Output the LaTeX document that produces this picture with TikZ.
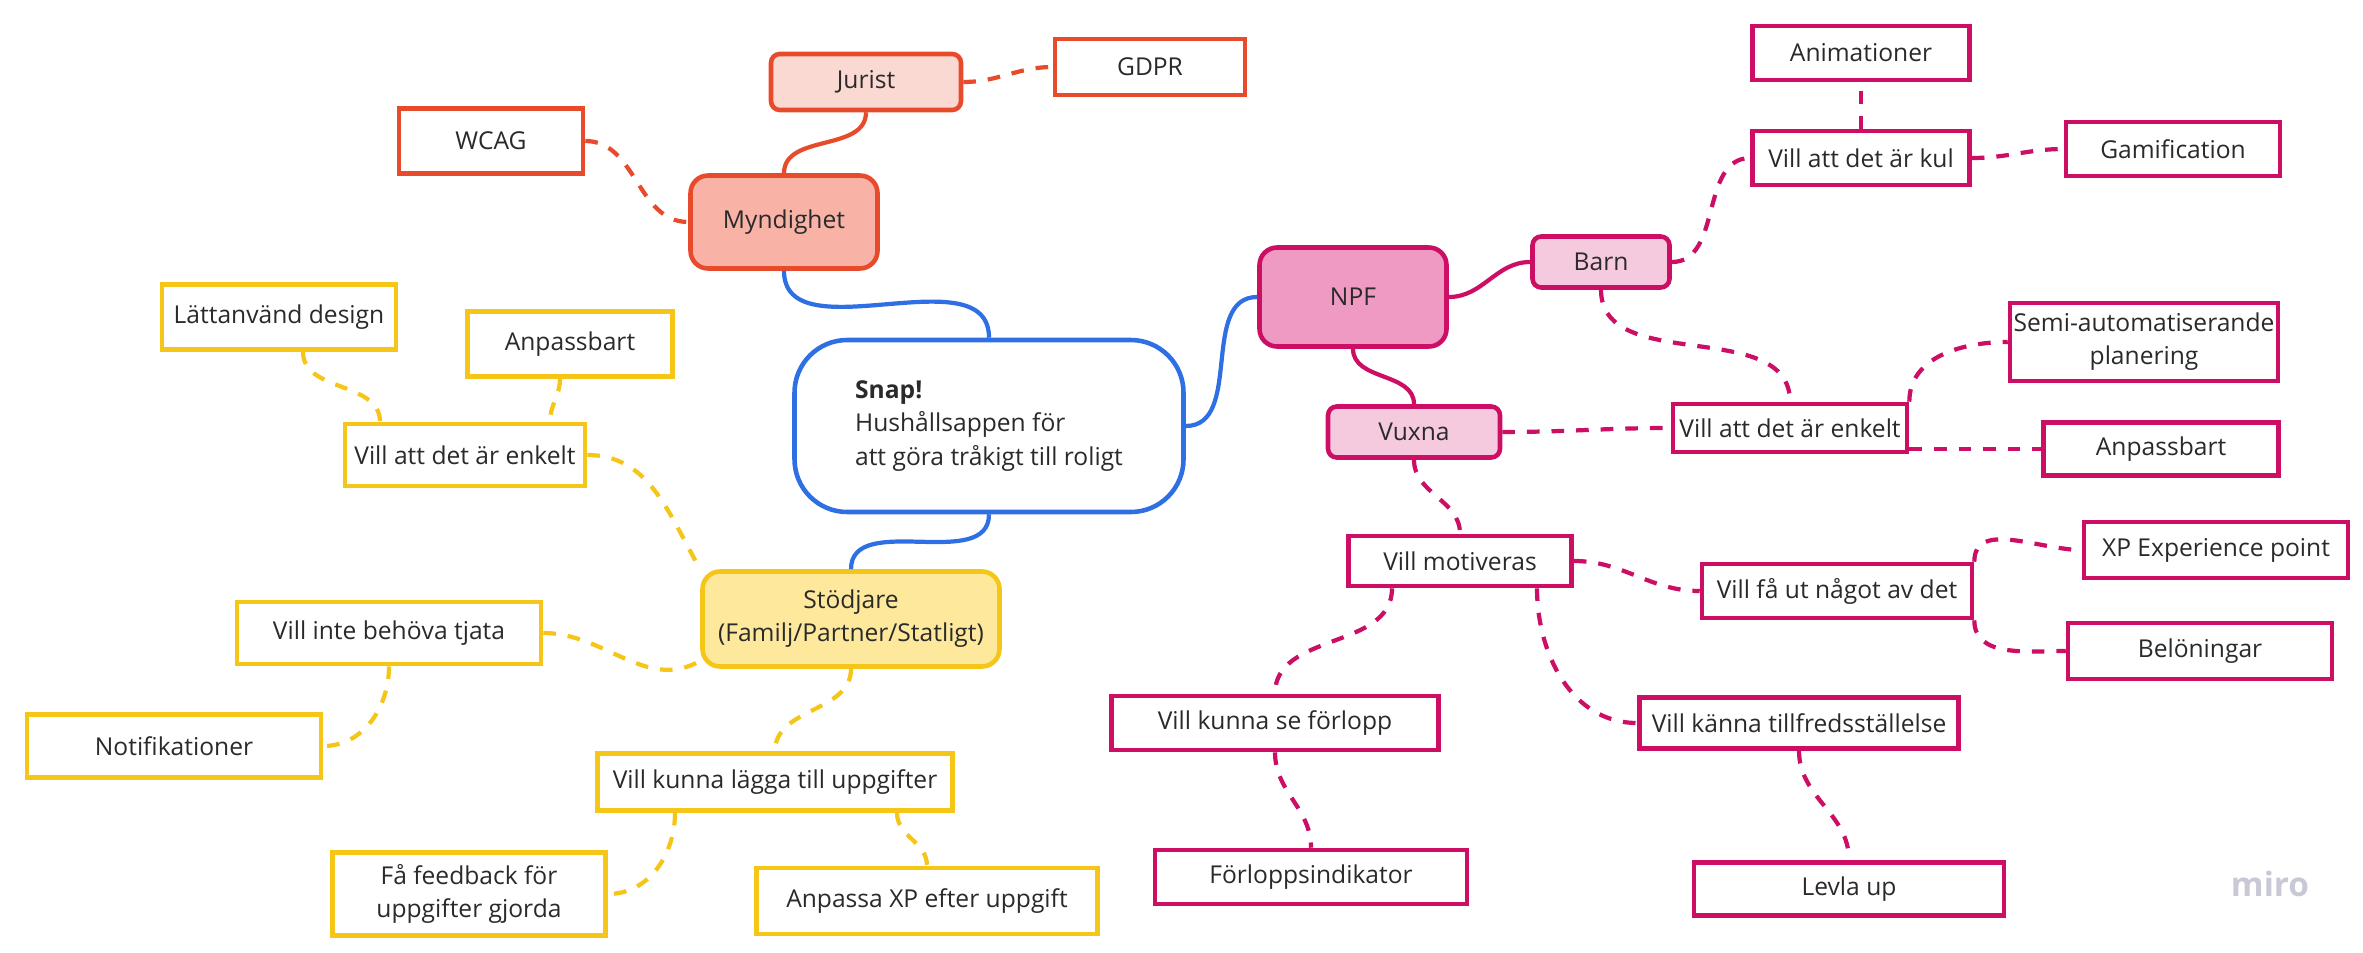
\documentclass[tikz,border=0pt]{standalone}
\usepackage{fontspec}
\setmainfont{Open Sans}
\usetikzlibrary{calc}
\definecolor{txt}{HTML}{2A2A2A}
\definecolor{redc}{HTML}{E84B2C}
\definecolor{redlight}{HTML}{FBD9D3}
\definecolor{redmid}{HTML}{F8B3A6}
\definecolor{bluec}{HTML}{2F6FE4}
\definecolor{magc}{HTML}{CC0E64}
\definecolor{maglight}{HTML}{F6CADE}
\definecolor{magmid}{HTML}{EF9AC2}
\definecolor{yelc}{HTML}{F5C518}
\definecolor{yelmid}{HTML}{FEE89C}
\definecolor{mirogray}{HTML}{C8C8D6}
\tikzset{font=\fontsize{7}{9.4}\selectfont,
  box/.style={draw,line width=1.3pt,fill=white,text=txt,align=center,inner sep=1pt},
  rbox/.style={box,draw=redc},
  mbox/.style={box,draw=magc},
  ybox/.style={box,draw=yelc},
  tag/.style={rounded corners=2.5pt},
  hub/.style={rounded corners=5pt},
  conn/.style={line width=1.2pt},
  dline/.style={conn,dash pattern=on 3.6pt off 3.4pt}}

\begin{document}
\begin{tikzpicture}[x=0.1mm,y=-0.1mm]
\useasboundingbox (0,0) rectangle (2363,952);
% centre
\node[box,draw=bluec,rounded corners=15pt,minimum width=38.9mm,minimum height=17.2mm,align=left,font=\fontsize{7}{9.6}\selectfont] (snap) at (989,426)
  {\textbf{Snap!}\\Hushållsappen för\\att göra tråkigt till roligt};
% myndighet
\node[rbox,hub,fill=redmid,minimum width=18.7mm,minimum height=9.3mm] (myn) at (784,222) {Myndighet};
\node[rbox,tag,fill=redlight,minimum width=19mm,minimum height=5.6mm] (jurist) at (866,82) {Jurist};
\node[rbox,minimum width=19mm,minimum height=5.6mm] (gdpr) at (1150,67) {GDPR};
\node[rbox,minimum width=18.4mm,minimum height=6.5mm] (wcag) at (491,141) {WCAG};
% npf
\node[mbox,hub,fill=magmid,minimum width=18.7mm,minimum height=9.9mm] (npf) at (1353,297) {NPF};
\node[mbox,tag,fill=maglight,minimum width=13.7mm,minimum height=5.1mm] (barn) at (1601,262) {Barn};
\node[mbox,tag,fill=maglight,minimum width=17.2mm,minimum height=5.1mm] (vuxna) at (1414,432) {Vuxna};
\node[mbox,minimum width=21.7mm,minimum height=5.4mm] (anim) at (1861,53) {Animationer};
\node[mbox,minimum width=21.7mm,minimum height=5.4mm] (kul) at (1861,158) {Vill att det är kul};
\node[mbox,minimum width=21.4mm,minimum height=5.4mm] (gami) at (2173,149) {Gamification};
\node[mbox,minimum width=26.8mm,minimum height=7.8mm] (semi) at (2144,342) {Semi-automatiserande\\planering};
\node[mbox,minimum width=23.4mm,minimum height=4.8mm] (enkR) at (1790,428) {Vill att det är enkelt};
\node[mbox,minimum width=23.5mm,minimum height=5.3mm] (anpR) at (2161,449) {Anpassbart};
\node[mbox,minimum width=22.3mm,minimum height=5mm] (mot) at (1460,561) {Vill motiveras};
\node[mbox,minimum width=27mm,minimum height=5.4mm] (faut) at (1837,591) {Vill få ut något av det};
\node[mbox,minimum width=26.4mm,minimum height=5.6mm] (xp) at (2216,550) {XP Experience point};
\node[mbox,minimum width=26.4mm,minimum height=5.6mm] (bel) at (2200,651) {Belöningar};
\node[mbox,minimum width=32.7mm,minimum height=5.4mm] (forl) at (1275,723) {Vill kunna se förlopp};
\node[mbox,minimum width=31.9mm,minimum height=5.1mm] (tillf) at (1799,723) {Vill känna tillfredsställelse};
\node[mbox,minimum width=31.2mm,minimum height=5.4mm] (forli) at (1311,877) {Förloppsindikator};
\node[mbox,minimum width=31mm,minimum height=5.3mm] (levla) at (1849,889) {Levla up};
% stodjare
\node[ybox,hub,fill=yelmid,minimum width=29.7mm,minimum height=9.5mm] (stod) at (851,619) {Stödjare\\(Familj/Partner/Statligt)};
\node[ybox,minimum width=23.4mm,minimum height=6.5mm] (latt) at (279,317) {Lättanvänd design};
\node[ybox,minimum width=20.5mm,minimum height=6.5mm] (anpL) at (570,344) {Anpassbart};
\node[ybox,minimum width=24mm,minimum height=6.2mm] (enkL) at (465,455) {Vill att det är enkelt};
\node[ybox,minimum width=30.4mm,minimum height=6.2mm] (tjata) at (389,633) {Vill inte behöva tjata};
\node[ybox,minimum width=29.4mm,minimum height=6.3mm] (notif) at (174,746) {Notifikationer};
\node[ybox,minimum width=35.5mm,minimum height=5.7mm] (lagga) at (775,782) {Vill kunna lägga till uppgifter};
\node[ybox,minimum width=27.3mm,minimum height=8.3mm] (feedb) at (469,894) {Få feedback för\\uppgifter gjorda};
\node[ybox,minimum width=34.1mm,minimum height=6.6mm] (axp) at (927,901) {Anpassa XP efter uppgift};
\node[text=mirogray,font=\fontsize{9.5}{10}\selectfont\bfseries] (miro) at (2270,884) {miro};
% blue
\path[conn,draw=bluec] (myn.south) edge[out=-90,in=90] (snap.north);
\path[conn,draw=bluec] (snap.south) edge[out=-90,in=90] (stod.north);
\path[conn,draw=bluec] (snap.east) edge[out=0,in=180] (npf.west);
% red
\path[conn,draw=redc] (myn.north) edge[out=90,in=-90] (jurist.south);
\path[dline,draw=redc] (jurist.east) edge[out=0,in=180] (gdpr.west);
\path[dline,draw=redc] (wcag.east) edge[out=0,in=180] (myn.west);
% magenta
\path[conn,draw=magc] (npf.east) edge[out=0,in=180] (barn.west);
\path[conn,draw=magc] (npf.south) edge[out=-90,in=90] (vuxna.north);
\path[dline,draw=magc] (barn.east) edge[out=0,in=180] (kul.west);
\path[dline,draw=magc] (kul.north) edge (anim.south);
\path[dline,draw=magc] (kul.east) edge[out=0,in=180] (gami.west);
\path[dline,draw=magc] (barn.south) edge[out=-90,in=90] (enkR.north);
\path[dline,draw=magc] (vuxna.east) edge[out=0,in=180] (enkR.west);
\path[dline,draw=magc] (enkR.north east) edge[out=90,in=180] (semi.west);
\path[dline,draw=magc] (enkR.east |- anpR.west) edge (anpR.west);
\path[dline,draw=magc] (vuxna.south) edge[out=-90,in=90] (mot.north);
\path[dline,draw=magc] (mot.east) edge[out=0,in=180] (faut.west);
\path[dline,draw=magc] (faut.north east) edge[out=90,in=180] (xp.west);
\path[dline,draw=magc] (faut.south east) edge[out=-90,in=180] (bel.west);
\path[dline,draw=magc] ($(mot.south)+(-68,0)$) edge[out=-90,in=90] (forl.north);
\path[dline,draw=magc] ($(mot.south)+(77,0)$) edge[out=-90,in=180] (tillf.west);
\path[dline,draw=magc] (forl.south) edge[out=-90,in=90] (forli.north);
\path[dline,draw=magc] (tillf.south) edge[out=-90,in=90] (levla.north);
% yellow
\path[dline,draw=yelc] (enkL.east) edge[out=0,in=120] (stod.north west);
\path[dline,draw=yelc] ($(latt.south)+(24,0)$) edge[out=-90,in=90] ($(enkL.north)+(-85,0)$);
\path[dline,draw=yelc] ($(anpL.south)+(-10,0)$) edge[out=-90,in=90] ($(enkL.north)+(85,0)$);
\path[dline,draw=yelc] (tjata.east) edge[out=0,in=210] ($(stod.south west)+(0,-8)$);
\path[dline,draw=yelc] (tjata.south) edge[out=-90,in=0] (notif.east);
\path[dline,draw=yelc] (stod.south) edge[out=-90,in=90] (lagga.north);
\path[dline,draw=yelc] ($(lagga.south)+(-100,0)$) edge[out=-90,in=0] (feedb.east);
\path[dline,draw=yelc] ($(lagga.south)+(122,0)$) edge[out=-90,in=90] (axp.north);
\end{tikzpicture}
\end{document}
